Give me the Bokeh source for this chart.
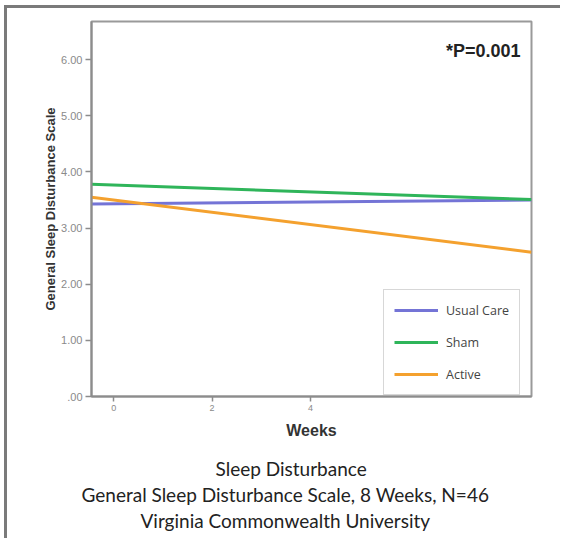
from bokeh.plotting import figure
from bokeh.models import (Range1d, FixedTicker, Legend, LegendItem, Label, Title)
from bokeh.embed import file_html
from bokeh.resources import INLINE

# ---- data ----
x_ends = [-0.45, 8.49]          # regression lines drawn across the whole x range
usual_care = [3.43, 3.50]
sham = [3.78, 3.51]
active = [3.55, 2.57]
series_names = ["Usual Care", "Sham", "Active"]
series_colors = ["#7474d6", "#2fb55a", "#f4a12e"]
y_ticks = [0, 1, 2, 3, 4, 5, 6]
y_tick_labels = [".00", "1.00", "2.00", "3.00", "4.00", "5.00", "6.00"]
x_ticks = [0, 2, 4]   # 6 and 8 are hidden behind the legend in the original
caption = ["Sleep Disturbance",
           "General Sleep Disturbance Scale, 8 Weeks, N=46",
           "Virginia Commonwealth University"]
caption_offsets = [124, -10, 49]
p_text = "*P=0.001"

W, H = 556, 533
p = figure(width=W, height=H, output_backend="svg", toolbar_location=None,
           x_range=Range1d(-0.45, 8.49), y_range=Range1d(0, 6.68),
           min_border_left=84, min_border_right=32, min_border_top=13,
           min_border_bottom=145)
p.styles = {"margin-top": "5px", "margin-left": "4px",
            "border-top": "3px solid #7a7a7a", "border-left": "3px solid #7a7a7a"}
p.background_fill_color = "white"
p.border_fill_color = "white"
p.grid.visible = False
p.outline_line_color = "#9a9a9a"
p.outline_line_width = 2

ys = [usual_care, sham, active]
renderers = []
for vals, c in zip(ys, series_colors):
    r = p.line(x_ends, vals, line_color=c, line_width=3)
    renderers.append(r)

# axes
p.yaxis.ticker = FixedTicker(ticks=y_ticks)
p.yaxis.major_label_overrides = {t: l for t, l in zip(y_ticks, y_tick_labels)}
p.xaxis.ticker = FixedTicker(ticks=x_ticks)
for ax in (p.xaxis[0], p.yaxis[0]):
    ax.axis_line_color = "#8c8c8c"
    ax.axis_line_width = 2
    ax.major_tick_line_color = "#8c8c8c"
    ax.major_tick_line_width = 1.5
    ax.minor_tick_line_color = None
    ax.major_tick_in = 0
    ax.major_tick_out = 6
    ax.major_label_text_color = "#8a8a8a"
    ax.major_label_text_font = "Liberation Sans"
    ax.major_label_text_font_size = "11px"
    ax.axis_label_text_font = "Liberation Sans"
    ax.axis_label_text_font_style = "bold"
    ax.axis_label_text_color = "#333333"
p.yaxis.axis_label = "General Sleep Disturbance Scale"
p.yaxis.axis_label_text_font_size = "13px"
p.yaxis.axis_label_standoff = 0
p.yaxis.major_label_standoff = 3
p.xaxis.axis_label = "Weeks"
p.xaxis.axis_label_text_font_size = "16px"
p.xaxis.axis_label_standoff = 8
p.xaxis.major_label_standoff = 3
p.xaxis.major_label_text_font_size = "9px"
p.xaxis.major_tick_out = 5

# legend (kept inside the frame)
items = [LegendItem(label=n, renderers=[r]) for n, r in zip(series_names, renderers)]
leg = Legend(items=items, location=(292, 1), orientation="vertical",
             glyph_width=44, glyph_height=20, label_standoff=8,
             label_text_font="Open Sans", label_text_font_size="12.5px",
             label_text_color="#444444", spacing=12, padding=10, margin=0,
             label_height=20,
             border_line_color="#b0b0b0", border_line_width=1.5,
             background_fill_color="white", background_fill_alpha=1.0)
p.add_layout(leg, "center")

# p-value annotation
p.add_layout(Label(x=429, y=346, x_units="screen", y_units="screen", text=p_text,
                   text_align="right", text_baseline="middle",
                   text_font="Liberation Sans", text_font_style="bold",
                   text_font_size="18px", text_color="#222222"))

# spacer between axis and caption
p.add_layout(Title(text=" ", text_font_size="1px", standoff=10), "below")
# caption as titles below the axis
for t, off in zip(caption, caption_offsets):
    p.add_layout(Title(text=t, align="left", offset=off,
                       text_font="Lato", text_font_size="19px",
                       text_font_style="normal", text_color="#222222",
                       standoff=1), "below")

open("out.html", "w").write(file_html(p, INLINE))
